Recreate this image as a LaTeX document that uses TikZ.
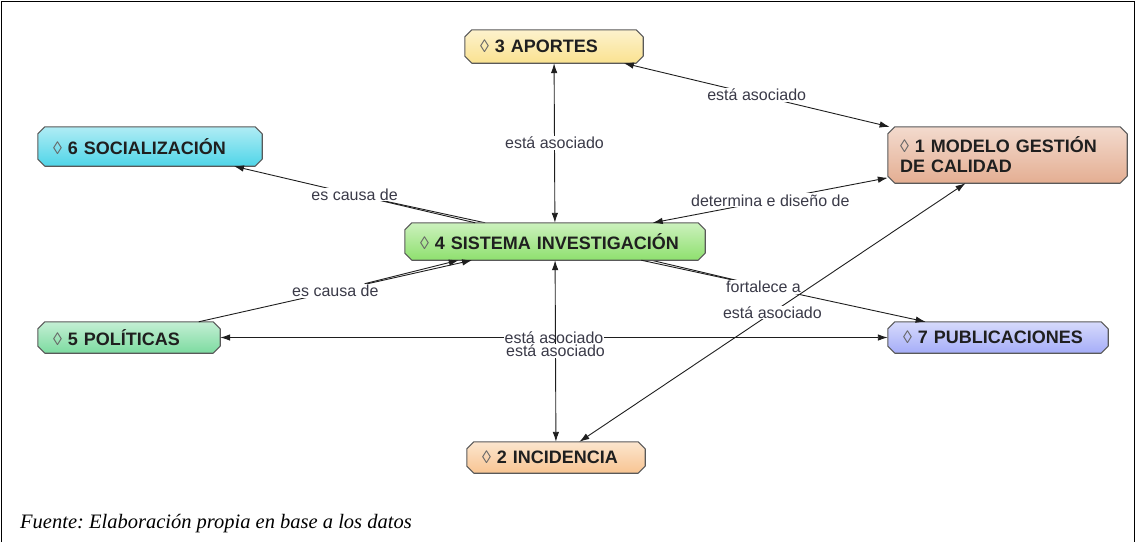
\documentclass[tikz,border=0pt]{standalone}
\usepackage{fontspec}
\setmainfont{Liberation Sans}
\newfontfamily\capfont{Liberation Serif}
\usetikzlibrary{calc,arrows.meta}
\frenchspacing

\definecolor{cAport}{HTML}{FAE290}
\definecolor{cSocial}{HTML}{4FD5E8}
\definecolor{cModelo}{HTML}{E4AE92}
\definecolor{cSistema}{HTML}{8EE06E}
\definecolor{cPolit}{HTML}{7CDBA0}
\definecolor{cPubl}{HTML}{A5ADF8}
\definecolor{cIncid}{HTML}{F8C592}
\definecolor{edgecol}{HTML}{1E1E1E}
\definecolor{lblcol}{HTML}{3A3A48}

\pgfdeclarelayer{links}
\pgfdeclarelayer{boxes}
\pgfsetlayers{links,boxes,main}

% chamfered, shaded box drawn behind a named concept node
\newcommand\conceptbox[2]{%
  \begin{pgfonlayer}{boxes}
    \path[draw=black!65, line width=1.1pt, line join=round,
          top color=#2!45!white, bottom color=#2]
      ($(#1.north west)+(7,0)$) -- ($(#1.north east)+(-7,0)$) --
      ($(#1.north east)+(0,7)$) -- ($(#1.south east)+(0,-7)$) --
      ($(#1.south east)+(-7,0)$) -- ($(#1.south west)+(7,0)$) --
      ($(#1.south west)+(0,-7)$) -- ($(#1.north west)+(0,7)$) -- cycle;
  \end{pgfonlayer}}

\newcommand\dmd{{\mdseries\color{black!60}◊}\ }

\begin{document}
\begin{tikzpicture}[x=1pt,y=-1pt,
  concept/.style={rectangle, draw=none, inner xsep=15pt, inner ysep=0pt,
    align=left, font=\bfseries\fontsize{18}{20}\selectfont, text=black!88},
  lbl/.style={fill=white, inner sep=1pt, text=lblcol,
    font=\fontsize{16}{18}\selectfont},
  link/.style={draw=edgecol, line width=0.9pt},
  arr/.style={link, -{Latex[length=10pt,width=6.5pt]}},
  bi/.style={link, {Latex[length=10pt,width=6.5pt]}-{Latex[length=10pt,width=6.5pt]}}]

\useasboundingbox (0,0) rectangle (1136,542);
\draw[line width=1.6pt] (1.5,542) -- (1.5,1.5) -- (1134.5,1.5) -- (1134.5,542);

% concepts
\node[concept, minimum width=178pt, minimum height=33pt, text width=148pt] (n3) at (554,46.5) {\dmd 3 APORTES};
\node[concept, minimum width=224pt, minimum height=39pt, text width=194pt] (n6) at (150,146.5) {\dmd 6 SOCIALIZACIÓN};
\node[concept, minimum width=239pt, minimum height=56pt, text width=215pt, inner xsep=12pt] (n1) at (1007.5,155) {\dmd 1 MODELO GESTIÓN\\DE CALIDAD};
\node[concept, minimum width=300pt, minimum height=37pt, text width=270pt] (n4) at (555,241.5) {\dmd 4 SISTEMA INVESTIGACIÓN};
\node[concept, minimum width=182pt, minimum height=31pt, text width=152pt] (n5) at (129,337.5) {\dmd 5 POLÍTICAS};
\node[concept, minimum width=220pt, minimum height=31pt, text width=190pt] (n7) at (998,337.5) {\dmd 7 PUBLICACIONES};
\node[concept, minimum width=178pt, minimum height=31pt, text width=148pt] (n2) at (556,457.5) {\dmd 2 INCIDENCIA};

\conceptbox{n3}{cAport}
\conceptbox{n6}{cSocial}
\conceptbox{n1}{cModelo}
\conceptbox{n4}{cSistema}
\conceptbox{n5}{cPolit}
\conceptbox{n7}{cPubl}
\conceptbox{n2}{cIncid}

% links with their linking phrases
\draw[bi] (n3) -- node[lbl] {está asociado} (n4);
\draw[bi] (n3) -- node[lbl] {está asociado} (n1);
\draw[bi] (n1) -- node[lbl] {determina e diseño de} (n4);
\draw[arr] (n4) -- node[lbl] (l46) {es causa de} (n6);
\draw[arr] (n5) -- node[lbl] (l54) {es causa de} (n4);
\draw[arr] (n4) -- node[lbl, pos=0.43] (l47) {fortalece a} (n7);
\draw[bi] (n5) -- node[lbl] {está asociado} (n7);
\draw[bi] (n4) -- node[lbl] {está asociado} (n2);
\draw[bi] (n2) -- node[lbl] {está asociado} (n1);

% doubled link segments
\begin{pgfonlayer}{links}
  \draw[link] (n4.165) -- (l46.center);
  \draw[link] (n4.-11) -- (l47.center);
\end{pgfonlayer}
\draw[arr] (l54) -- (n4.191.5);

% source line
\node[anchor=base west, inner sep=0pt, font=\capfont\itshape\fontsize{20.5}{24}\selectfont] (src) at (20,528) {Fuente: Elaboración propia en base a los datos};
\end{tikzpicture}
\end{document}
